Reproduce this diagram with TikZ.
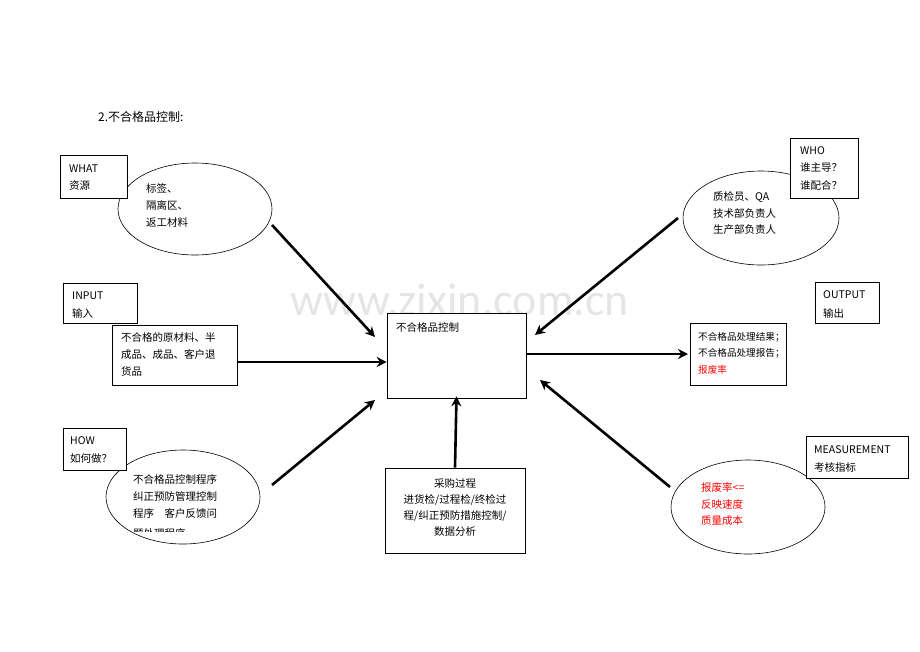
\documentclass[tikz,border=0pt]{standalone}
\usepackage{fontspec}
\setmainfont{Carlito}
\newfontfamily\cjk{Noto Sans CJK SC}
\usetikzlibrary{arrows.meta}
\begin{document}
\begin{tikzpicture}[x=1pt,y=-1pt,
  box/.style={draw,line width=0.6pt},
  el/.style={draw,line width=0.6pt},
  arr/.style={line width=2.6pt,-{Stealth[length=10pt,width=10pt]}},
  t/.style={anchor=west,inner sep=0,font=\cjk\fontsize{10.5}{12}\selectfont},
  red/.style={text=red}]
\useasboundingbox (0,0) rectangle (920,651);
\node[anchor=center,text=black!10,font=\fontsize{46}{50}\selectfont] (wm) at (460,300) {www.zixin.com.cn};
\node[t,font=\cjk\fontsize{12}{14}\selectfont] (title) at (98,117) {2.不合格品控制:};
% WHAT
\draw[el,fill=white] (195,209) ellipse (77 and 46);
\draw[box,fill=white] (60,155) rectangle (127,198);
\node[t] (w1) at (69,169) {WHAT};
\node[t] (w2) at (69,186) {资源};
\node[t] (e1a) at (146,188) {标签、};
\node[t] (e1b) at (146,205) {隔离区、};
\node[t] (e1c) at (146,222) {返工材料};
\coordinate (a1s) at (272,225);
% INPUT
\draw[box] (63,283) rectangle (137,323);
\node[t] (i1) at (72,296) {INPUT};
\node[t] (i2) at (72,313) {输入};
\draw[box,fill=white] (112,325) rectangle (237,385);
\node[t] (ib1) at (121,337) {不合格的原材料、半};
\node[t] (ib2) at (121,354) {成品、成品、客户退};
\node[t] (ib3) at (121,371) {货品};
\coordinate (a2s) at (237,362);
% HOW
\begin{scope}
\draw[el,fill=white] (183,497) ellipse (77 and 47);
\clip (100,440) rectangle (270,531);
\node[t] (h3) at (133,479) {不合格品控制程序};
\node[t] (h4) at (133,496) {纠正预防管理控制};
\node[t] (h5) at (133,513) {程序\quad 客户反馈问};
\node[t] (h6) at (133,533) {题处理程序};
\end{scope}
\draw[box,fill=white] (63,428) rectangle (126,470);
\node[t] (h1) at (70,441) {HOW};
\node[t] (h2) at (70,459) {如何做？};
\coordinate (a3s) at (272,485);
% center
\node[box,fill=white,minimum width=139pt,minimum height=85pt,inner sep=0] (c) at (456.5,355.5) {};
\node[t] (ct) at (396,327) {不合格品控制};
% bottom
\node[box,minimum width=140pt,minimum height=85pt,inner sep=0] (b) at (455,510.5) {};
\node[t,anchor=center,align=center] (bt) at (455,508) {采购过程\\[4pt]进货检/过程检/终检过\\[4pt]程/纠正预防措施控制/\\[4pt]数据分析};
% WHO
\draw[el,fill=white] (761,218) ellipse (78 and 47);
\draw[box,fill=white] (790,138) rectangle (858,198);
\node[t] (o1) at (800,151) {WHO};
\node[t] (o2) at (800,168) {谁主导？};
\node[t] (o3) at (800,185) {谁配合？};
\node[t] (oe1) at (713,197) {质检员、QA};
\node[t] (oe2) at (713,213) {技术部负责人};
\node[t] (oe3) at (713,230) {生产部负责人};
\coordinate (a4s) at (678,218);
% OUTPUT
\draw[box] (815,282) rectangle (879,323);
\node[t] (u1) at (823,295) {OUTPUT};
\node[t] (u2) at (823,313) {输出};
\draw[box,fill=white] (690,323) rectangle (786,385);
\node[t,font=\cjk\fontsize{9.6}{12}\selectfont] (ub1) at (698,337) {不合格品处理结果；};
\node[t,font=\cjk\fontsize{9.6}{12}\selectfont] (ub2) at (698,353) {不合格品处理报告；};
\node[t,red,font=\cjk\fontsize{9.6}{12}\selectfont] (ub3) at (698,370) {报废率};
\coordinate (a5e) at (688,354);
% MEASUREMENT
\draw[el,fill=white] (748,507) ellipse (77 and 47);
\draw[box,fill=white] (806,436) rectangle (908,478);
\node[t] (m1) at (814,450) {MEASUREMENT};
\node[t] (m2) at (814,467) {考核指标};
\node[t,red] (me1) at (701,487) {报废率<=};
\node[t,red] (me2) at (701,504) {反映速度};
\node[t,red] (me3) at (701,521) {质量成本};
\coordinate (a6s) at (670,487);
% arrows
\draw[arr] (a1s) -- (375,337);
\draw[arr] (a2s) -- (c.west |- a2s);
\draw[arr] (a3s) -- (375,400);
\draw[arr] (b.north) -- ([yshift=2pt]c.south);
\draw[arr] (a4s) -- (535,335);
\draw[arr] (c.east |- a5e) -- (a5e);
\draw[arr] (a6s) -- (540,380);
\end{tikzpicture}
\end{document}
